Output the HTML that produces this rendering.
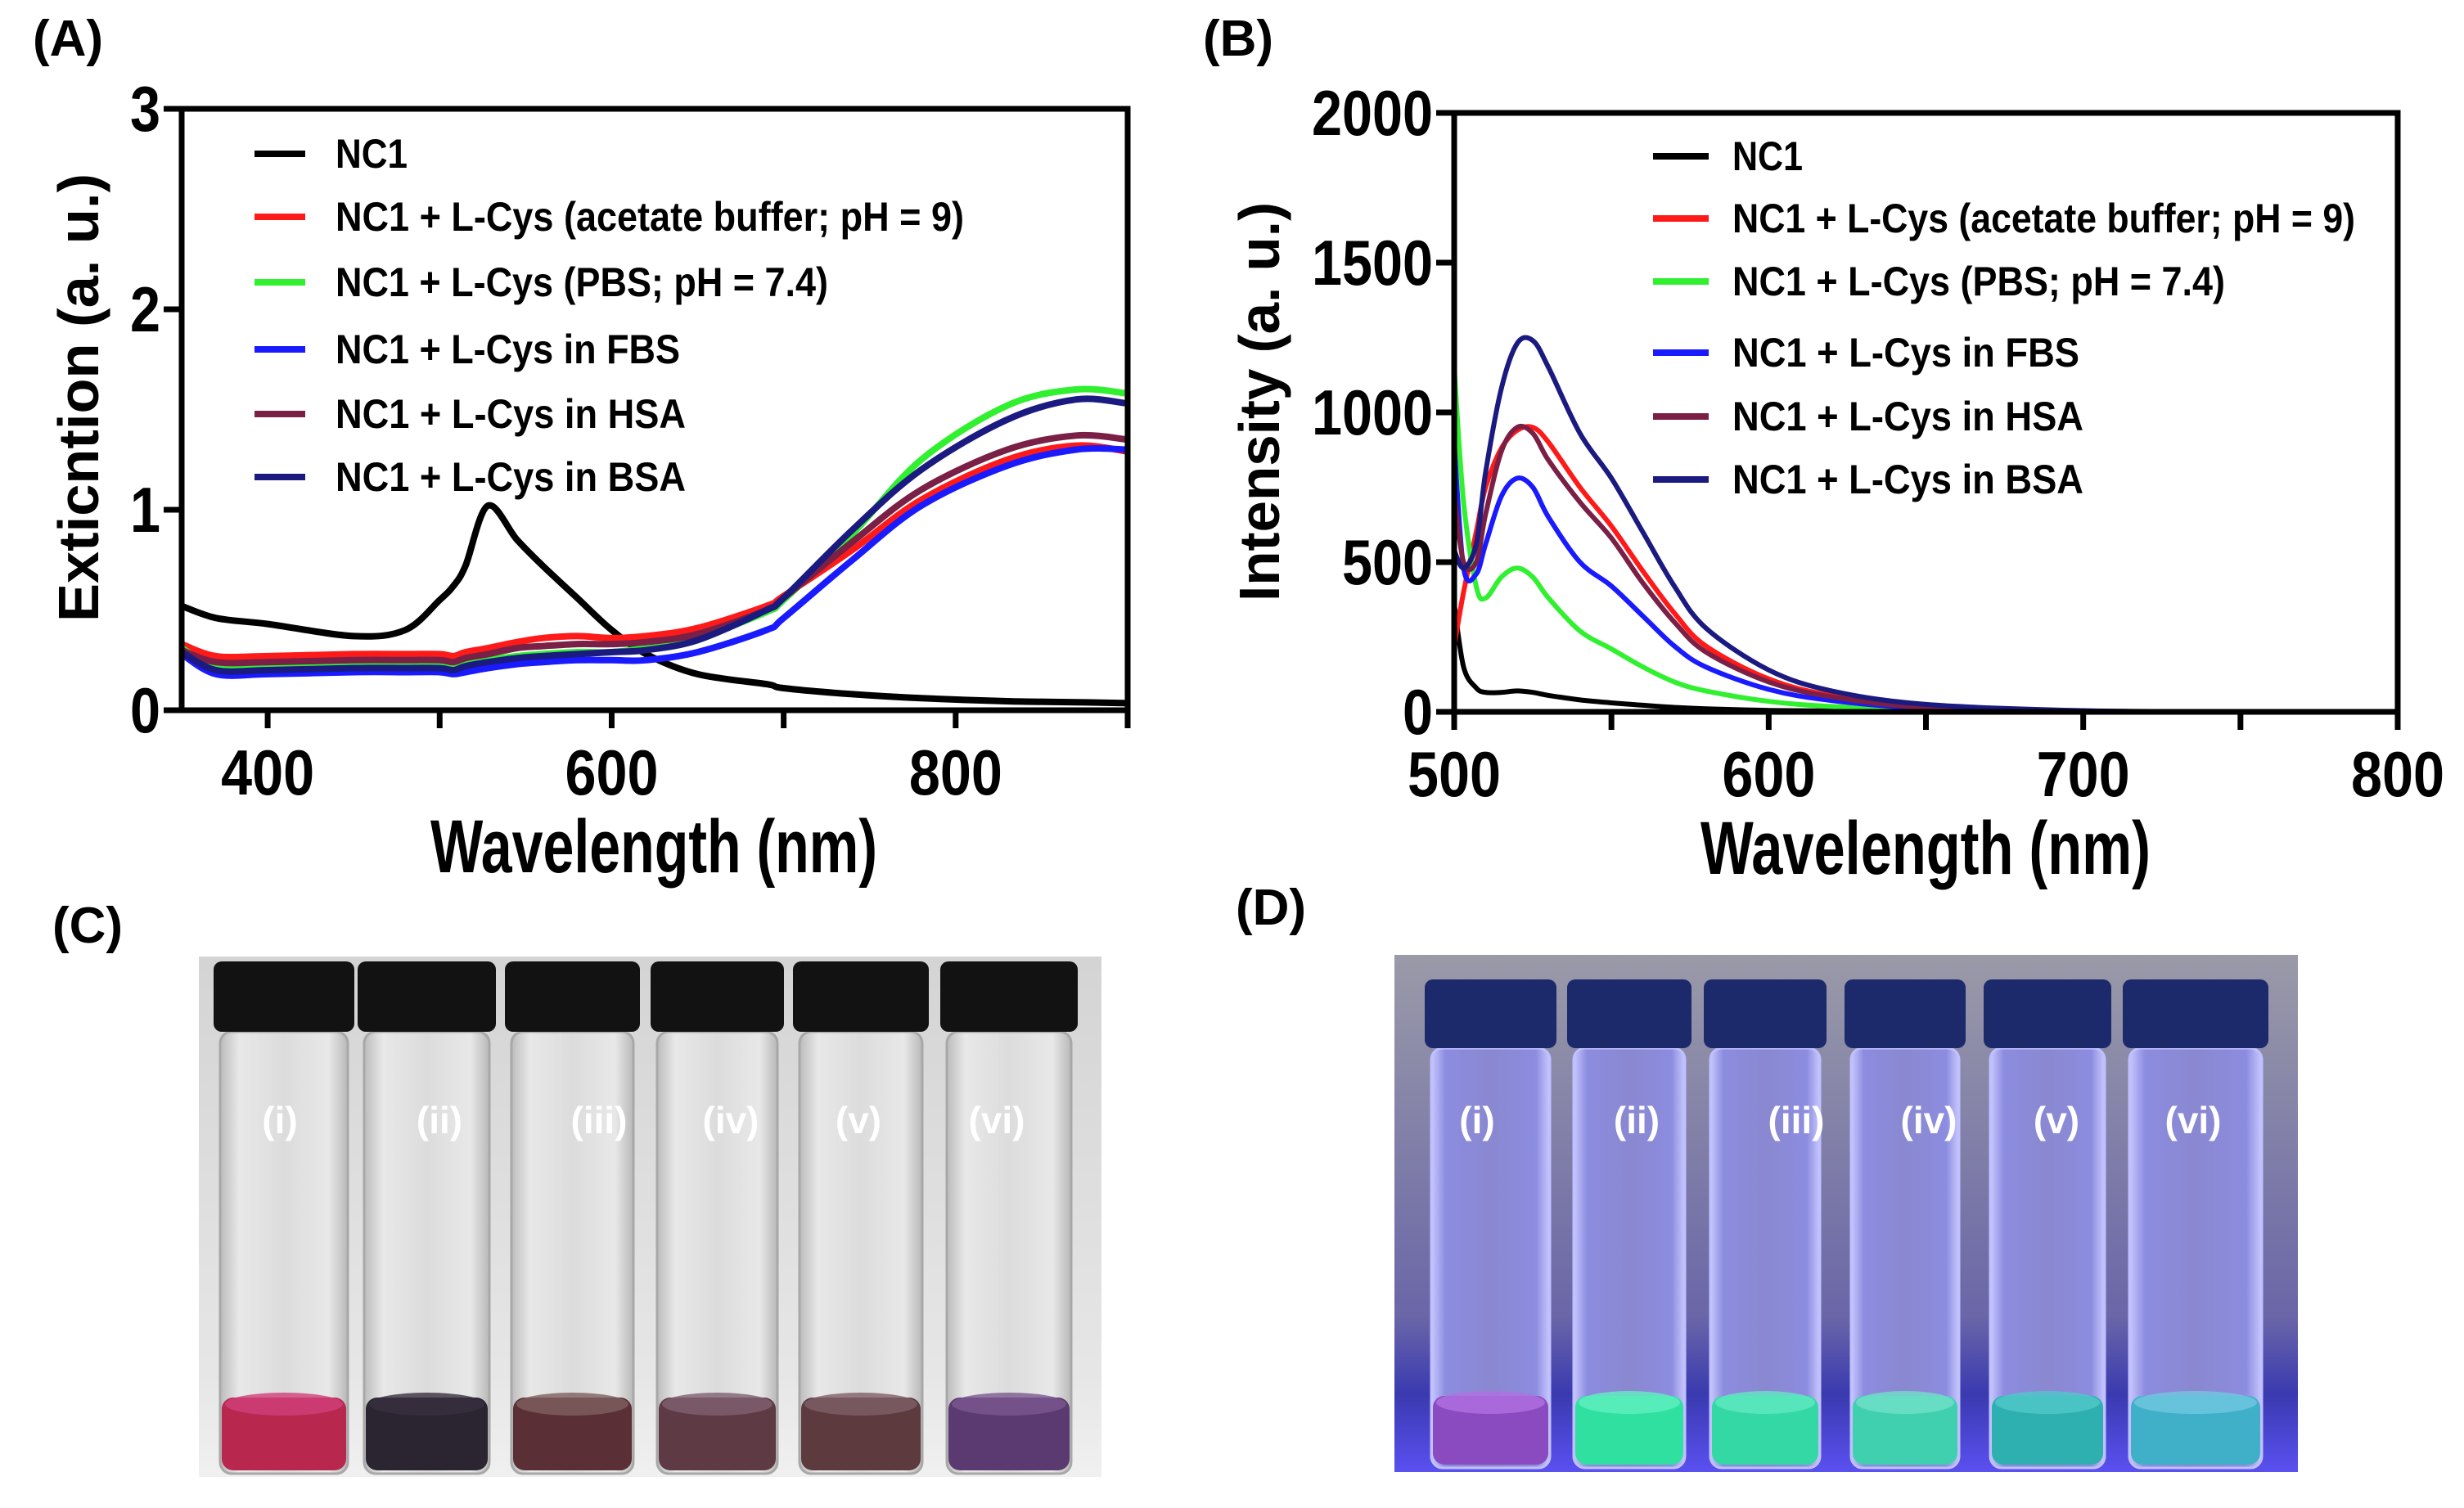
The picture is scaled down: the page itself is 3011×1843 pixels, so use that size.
<!DOCTYPE html>
<html><head><meta charset="utf-8"><style>
html,body{margin:0;padding:0;background:#fff}
svg{display:block}
text{font-family:"Liberation Sans Narrow","Liberation Sans",sans-serif;font-weight:bold}
</style></head><body>
<svg id="fig" width="3011" height="1843" viewBox="0 0 3011 1843" xmlns="http://www.w3.org/2000/svg">
<defs>
<linearGradient id="bgC" x1="0" y1="0" x2="0" y2="1"><stop offset="0" stop-color="#d4d4d4"/><stop offset="0.8" stop-color="#e6e6e6"/><stop offset="1" stop-color="#f0f0f0"/></linearGradient>
<linearGradient id="bgD" x1="0" y1="0" x2="0" y2="1"><stop offset="0" stop-color="#9a9aa8"/><stop offset="0.7" stop-color="#6a66a8"/><stop offset="0.85" stop-color="#3a3ab0"/><stop offset="1" stop-color="#5a50f0"/></linearGradient>
<linearGradient id="glassC" x1="0" y1="0" x2="1" y2="0"><stop offset="0" stop-color="#bcbcbc"/><stop offset="0.15" stop-color="#e8e8e8"/><stop offset="0.5" stop-color="#dcdcdc"/><stop offset="0.85" stop-color="#e8e8e8"/><stop offset="1" stop-color="#b8b8b8"/></linearGradient>
<linearGradient id="glassD" x1="0" y1="0" x2="1" y2="0"><stop offset="0" stop-color="#c8c8ff"/><stop offset="0.12" stop-color="#8c8ce0"/><stop offset="0.5" stop-color="#8a88d0"/><stop offset="0.88" stop-color="#8c8ce0"/><stop offset="1" stop-color="#c8c8ff"/></linearGradient>
</defs>
<g id="panelA"></g>
<g id="panelB"></g>
<g id="panelC"></g>
<g id="panelD"></g>
</svg>
<script>
const NS="http://www.w3.org/2000/svg";
// ---- Panel A data ----
const aWave=[350,370,400,450,480,500,508,515,528,545,560,580,600,620,650,690,700,740,780,830,870,900];
const aNC1=[0.52,0.46,0.43,0.37,0.40,0.55,0.62,0.72,1.02,0.85,0.72,0.56,0.40,0.28,0.18,0.13,0.11,0.08,0.06,0.045,0.04,0.035];
const aAcetate=[0.33,0.27,0.27,0.28,0.28,0.28,0.27,0.29,0.31,0.34,0.36,0.37,0.36,0.37,0.41,0.52,0.57,0.8,1.05,1.25,1.32,1.29];
const aPBS=[0.31,0.22,0.22,0.23,0.23,0.23,0.21,0.23,0.25,0.27,0.28,0.29,0.29,0.31,0.36,0.49,0.55,0.88,1.25,1.52,1.6,1.58];
const aFBS=[0.28,0.18,0.18,0.19,0.19,0.19,0.18,0.19,0.21,0.23,0.24,0.25,0.25,0.25,0.29,0.40,0.46,0.75,1.02,1.22,1.3,1.3];
const aHSA=[0.30,0.24,0.24,0.25,0.25,0.25,0.24,0.26,0.28,0.31,0.32,0.33,0.33,0.34,0.38,0.50,0.56,0.84,1.1,1.3,1.37,1.35];
const aBSA=[0.29,0.20,0.20,0.21,0.21,0.21,0.20,0.22,0.24,0.26,0.27,0.28,0.29,0.30,0.35,0.50,0.56,0.9,1.2,1.45,1.55,1.53];
const aXTicks=[400,600,800];
const aXMinor=[500,700,900];
const aYTicks=[0,1,2,3];
// ---- Panel B data ----
const bWave=[500,503,507,510,515,520,525,530,540,550,560,570,580,600,620,650,700,750,800];
const bNC1=[360,150,80,65,65,70,65,55,40,30,22,15,10,5,3,1,0,0,0];
const bAcetate=[220,400,600,750,880,940,950,900,750,620,470,330,220,110,55,18,3,1,0];
const bPBS=[1150,700,420,380,450,480,450,380,270,210,150,100,70,35,18,6,1,0,0];
const bFBS=[900,480,460,560,720,780,750,650,500,420,320,220,150,75,38,12,2,0,0];
const bHSA=[730,500,500,660,870,950,930,840,700,580,430,300,200,100,50,15,2,0,0];
const bBSA=[540,480,560,800,1080,1230,1240,1150,930,780,600,420,280,140,70,25,4,1,0];
const bXTicks=[500,600,700,800];
const bXMinor=[550,650,750];
const bYTicks=[0,500,1000,1500,2000];
const legendLabels=["NC1","NC1 + L-Cys (acetate buffer; pH = 9)","NC1 + L-Cys (PBS; pH = 7.4)","NC1 + L-Cys in FBS","NC1 + L-Cys in HSA","NC1 + L-Cys in BSA"];
const colors=["#000000","#ff1a1a","#30f030","#1a1aff","#7a1f45","#1a1a80"];

function el(parent,tag,attrs,txt){const e=document.createElementNS(NS,tag);for(const k in attrs)e.setAttribute(k,attrs[k]);if(txt!==undefined)e.textContent=txt;parent.appendChild(e);return e;}
function smoothPath(pts){let d="M"+pts[0][0]+","+pts[0][1];for(let i=0;i<pts.length-1;i++){const p0=pts[i-1]||pts[i],p1=pts[i],p2=pts[i+1],p3=pts[i+2]||p2;const c1x=p1[0]+(p2[0]-p0[0])/6,c1y=p1[1]+(p2[1]-p0[1])/6,c2x=p2[0]-(p3[0]-p1[0])/6,c2y=p2[1]-(p3[1]-p1[1])/6;d+=" C"+c1x.toFixed(1)+","+c1y.toFixed(1)+" "+c2x.toFixed(1)+","+c2y.toFixed(1)+" "+p2[0].toFixed(1)+","+p2[1].toFixed(1);}return d;}

function chart(g,cfg){
  const X=v=>cfg.x0+(v-cfg.xmin)/(cfg.xmax-cfg.xmin)*(cfg.x1-cfg.x0);
  const Y=v=>cfg.y0-(v-cfg.ymin)/(cfg.ymax-cfg.ymin)*(cfg.y0-cfg.y1);
  const clip=el(g,"clipPath",{id:cfg.id+"clip"});el(clip,"rect",{x:cfg.x0,y:cfg.y1-10,width:cfg.x1-cfg.x0,height:cfg.y0-cfg.y1+10});
  cfg.series.forEach((s,i)=>{
    const pts=cfg.wave.map((w,j)=>[X(w),Y(s[j])]);
    const p=el(g,"path",{d:smoothPath(pts),fill:"none",stroke:colors[i],"stroke-width":cfg.lw,"stroke-linejoin":"round","clip-path":"url(#"+cfg.id+"clip)"});
    
    
  });
  const box=el(g,"rect",{x:cfg.x0,y:cfg.y1,width:cfg.x1-cfg.x0,height:cfg.y0-cfg.y1,fill:"none",stroke:"#000","stroke-width":7});
  
  
  cfg.yTicks.forEach(t=>{
    el(g,"line",{x1:cfg.x0-22,x2:cfg.x0,y1:Y(t),y2:Y(t),stroke:"#000","stroke-width":7});
    const s=cfg.yFmt(t);
    const tx=el(g,"text",{x:cfg.x0-26,y:Y(t)+27,"text-anchor":"end","font-size":78,textLength:37*s.length,lengthAdjust:"spacingAndGlyphs"},s);
    
    
  });
  cfg.xTicks.forEach(t=>{
    el(g,"line",{x1:X(t),x2:X(t),y1:cfg.y0,y2:cfg.y0+22,stroke:"#000","stroke-width":7});
    const s=String(t);
    const tx=el(g,"text",{x:X(t),y:cfg.y0+103,"text-anchor":"middle","font-size":78,textLength:38*s.length,lengthAdjust:"spacingAndGlyphs"},s);
    
    
  });
  cfg.xMinor.forEach(t=>{el(g,"line",{x1:X(t),x2:X(t),y1:cfg.y0,y2:cfg.y0+22,stroke:"#000","stroke-width":7});});
  legendLabels.forEach((lab,i)=>{
    const y=cfg.legY[i];
    const ln=el(g,"line",{x1:cfg.legX0,x2:cfg.legX1,y1:y,y2:y,stroke:colors[i],"stroke-width":8});
    
    
    const t=el(g,"text",{x:cfg.legTX,y:y+17,"font-size":50,textLength:cfg.legW[i],lengthAdjust:"spacingAndGlyphs"},lab);
    
    
  });
  const xt=el(g,"text",{x:cfg.xtX,y:cfg.xtY,"font-size":92,textLength:cfg.xtW,lengthAdjust:"spacingAndGlyphs"},"Wavelength (nm)");
  
  
  const yt=el(g,"text",{x:0,y:0,"font-size":70,"font-family":"Liberation Sans, sans-serif",textLength:cfg.ytW,lengthAdjust:"spacingAndGlyphs",transform:"translate("+cfg.ytX+","+cfg.ytY+") rotate(-90)"},cfg.ytText);
  
  
  const pl=el(g,"text",{x:cfg.plX,y:cfg.plY,"font-size":62,"font-family":"Liberation Sans, sans-serif"},cfg.plText);
  
  
}

chart(document.getElementById("panelA"),{id:"a",x0:222,x1:1378,xmin:350,xmax:900,y0:868,y1:133,ymin:0,ymax:3,lw:8,
  wave:aWave,series:[aNC1,aAcetate,aPBS,aFBS,aHSA,aBSA],xTicks:aXTicks,xMinor:aXMinor,yTicks:aYTicks,yFmt:t=>String(t),
  legX0:311,legX1:373,legTX:410,legY:[188,265,345,427,506,583],legW:[88,768,602,421,428,428],
  xtX:526,xtY:1066,xtW:546,ytX:120,ytY:760,ytW:548,ytText:"Exticntion  (a. u.)",plX:40,plY:68,plText:"(A)"});
chart(document.getElementById("panelB"),{id:"b",x0:1777,x1:2930,xmin:500,xmax:800,y0:870,y1:138,ymin:0,ymax:2000,lw:6,
  wave:bWave,series:[bNC1,bAcetate,bPBS,bFBS,bHSA,bBSA],xTicks:bXTicks,xMinor:bXMinor,yTicks:bYTicks,yFmt:t=>String(t),
  legX0:2020,legX1:2088,legTX:2117,legY:[191,267,344,431,509,586],legW:[86,761,602,424,429,429],
  xtX:2078,xtY:1068,xtW:550,ytX:1563,ytY:735,ytW:488,ytText:"Intensity  (a. u.)",plX:1470,plY:68,plText:"(B)"});

function photo(g,cfg){
  const bg=el(g,"rect",{x:cfg.x,y:cfg.y,width:cfg.w,height:cfg.h,fill:cfg.bg});
  
  
  cfg.vials.forEach((v,i)=>{
    const vg=el(g,"g",{});
    
    
    const bw=v[1]-v[0];
    el(vg,"rect",{x:v[0]+8,y:cfg.capB,width:bw-16,height:cfg.glassB-cfg.capB,rx:14,fill:cfg.glass,stroke:cfg.edge,"stroke-width":3});
    el(vg,"rect",{x:v[0]+10,y:cfg.liqT,width:bw-20,height:cfg.glassB-cfg.liqT-4,rx:14,fill:cfg.liq[i]});
    el(vg,"ellipse",{cx:(v[0]+v[1])/2,cy:cfg.liqT+8,rx:bw/2-14,ry:14,fill:cfg.liqTop[i],opacity:0.8});
    el(vg,"rect",{x:v[0],y:cfg.capT,width:bw,height:cfg.capB-cfg.capT,rx:10,fill:cfg.cap});
    const t=el(vg,"text",{x:cfg.lx[i],y:cfg.ly,"text-anchor":"middle","font-size":46,fill:"#ffffff","font-weight":"normal"},cfg.lab[i]);
    
    
  });
  const pl=el(g,"text",{x:cfg.plX,y:cfg.plY,"font-size":62,"font-family":"Liberation Sans, sans-serif"},cfg.plText);
  
  
}
const labs=["(i)","(ii)","(iii)","(iv)","(v)","(vi)"];
photo(document.getElementById("panelC"),{id:"c",x:243,y:1169,w:1103,h:636,bg:"url(#bgC)",glass:"url(#glassC)",edge:"#a8a8a8",cap:"#121212",
  vials:[[261,433],[437,606],[617,782],[795,958],[969,1135],[1149,1317]],capT:1175,capB:1261,glassB:1801,liqT:1708,
  liq:["#b8284e","#2a2530","#5a3036","#5e3a45","#5c3a3e","#5a3a70"],liqTop:["#d0407a","#3a3040","#806060","#806070","#806068","#7a5890"],
  lx:[342,537,732,893,1049,1218],ly:1385,lab:labs,plX:64,plY:1152,plText:"(C)"});
photo(document.getElementById("panelD"),{id:"d",x:1704,y:1167,w:1104,h:632,bg:"url(#bgD)",glass:"url(#glassD)",edge:"#c0c0ff",cap:"#1c2a6c",
  vials:[[1741,1902],[1915,2067],[2082,2232],[2254,2402],[2424,2580],[2594,2772]],capT:1197,capB:1281,glassB:1794,liqT:1706,
  liq:["#8a4ac0","#30e0a0","#34d8a4","#40d0b0","#2eb0b0","#40b0c8"],liqTop:["#b070e0","#60f0c0","#60e8c0","#70e0c8","#50c8c8","#70c8e0"],
  lx:[1805,2000,2195,2357,2513,2680],ly:1385,lab:labs,plX:1510,plY:1130,plText:"(D)"});
</script>
</body></html>
